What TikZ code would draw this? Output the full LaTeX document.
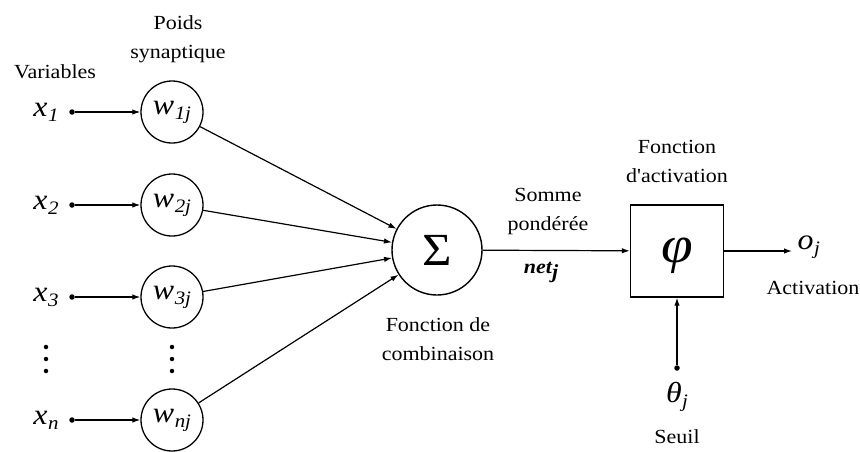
\documentclass[tikz,border=0pt]{standalone}
\usepackage{fontspec}
\setmainfont{Liberation Serif}[FakeStretch=1.1,Ligatures=TeXOff]
\usetikzlibrary{arrows.meta}
\newcommand{\vsub}[2]{\textit{#1}\kern0.5pt\raisebox{-5pt}{\fontsize{19}{20}\selectfont\textit{#2}}}
\begin{document}
\begin{tikzpicture}[x=1pt,y=-1pt,
  line width=1.2pt,
  arr/.style={-{Latex[length=8pt,width=5.5pt]}},
  wnode/.style={draw,circle,minimum size=62pt,inner sep=0pt,line width=1.3pt},
  dotpt/.style={circle,fill,inner sep=0pt,minimum size=5.5pt},
  smalldot/.style={circle,fill,inner sep=0pt,minimum size=4.5pt},
  lbl/.style={font=\fontsize{20}{29}\selectfont,align=center,inner sep=0pt},
  mlbl/.style={font=\fontsize{29}{30}\selectfont,inner sep=0pt}]
\useasboundingbox (0,0) rectangle (860,451);

% inputs and synaptic weights
\foreach \i/\y in {1/112,2/205,3/297,n/420}{
  \node[mlbl] (x\i) at (46,\y) {\vsub{x}{\i}};
  \node[dotpt] (d\i) at (72,\y) {};
  \node[mlbl] (w\i) at (172,\y) {\vsub{w}{\i j}};
  \node[wnode] (c\i) at (172,\y) {};
  \draw[arr] (d\i) -- (c\i);
}
% vertical ellipses
\foreach \xx/\nm in {46/vx,172/vw}{
  \node[smalldot] (\nm a) at (\xx,347) {};
  \node[smalldot] (\nm b) at (\xx,359) {};
  \node[smalldot] (\nm c) at (\xx,371) {};
}

% summation
\node[draw,circle,minimum size=90pt,inner sep=0pt,line width=1.4pt] (sig) at (437,250) {};
\node[font=\fontsize{46}{46}\selectfont,inner sep=0pt] (sigma) at (437,250) {Σ};
\foreach \i in {1,2,3,n}{
  \draw[arr] (c\i) -- (sig);
}

% activation box
\node[draw,minimum width=93pt,minimum height=92pt,inner sep=0pt,line width=1.4pt] (phi) at (677,251) {};
\node[font=\fontsize{52}{52}\selectfont\itshape,inner sep=0pt] (phisym) at (677,256) {φ};
\draw[arr] (sig) -- (phi);

% output
\node[mlbl,anchor=west] (oj) at (797,247) {\vsub{o}{j}};
\coordinate (oend) at (792,251);
\draw[arr] (phi.east) -- (oend);

% threshold
\node[dotpt] (dt) at (677,368) {};
\node[mlbl] (th) at (677,397) {\vsub{θ}{j}};
\draw[arr] (dt) -- (phi.south);

% labels
\node[lbl] (lvar) at (55,72) {Variables};
\node[lbl] (lpoids) at (178,39) {Poids\\synaptique};
\node[lbl] (lsom) at (548,212) {Somme\\pondérée};
\node[lbl] (lnet) at (541,272) {\bfseries\itshape net\raisebox{-5pt}{j}};
\node[lbl] (lcomb) at (438,339) {Fonction de\\combinaison};
\node[lbl] (lact) at (677,161) {Fonction\\d'activation};
\node[lbl] (lactv) at (813,288) {Activation};
\node[lbl] (lseuil) at (677,437) {Seuil};
\end{tikzpicture}
\end{document}
